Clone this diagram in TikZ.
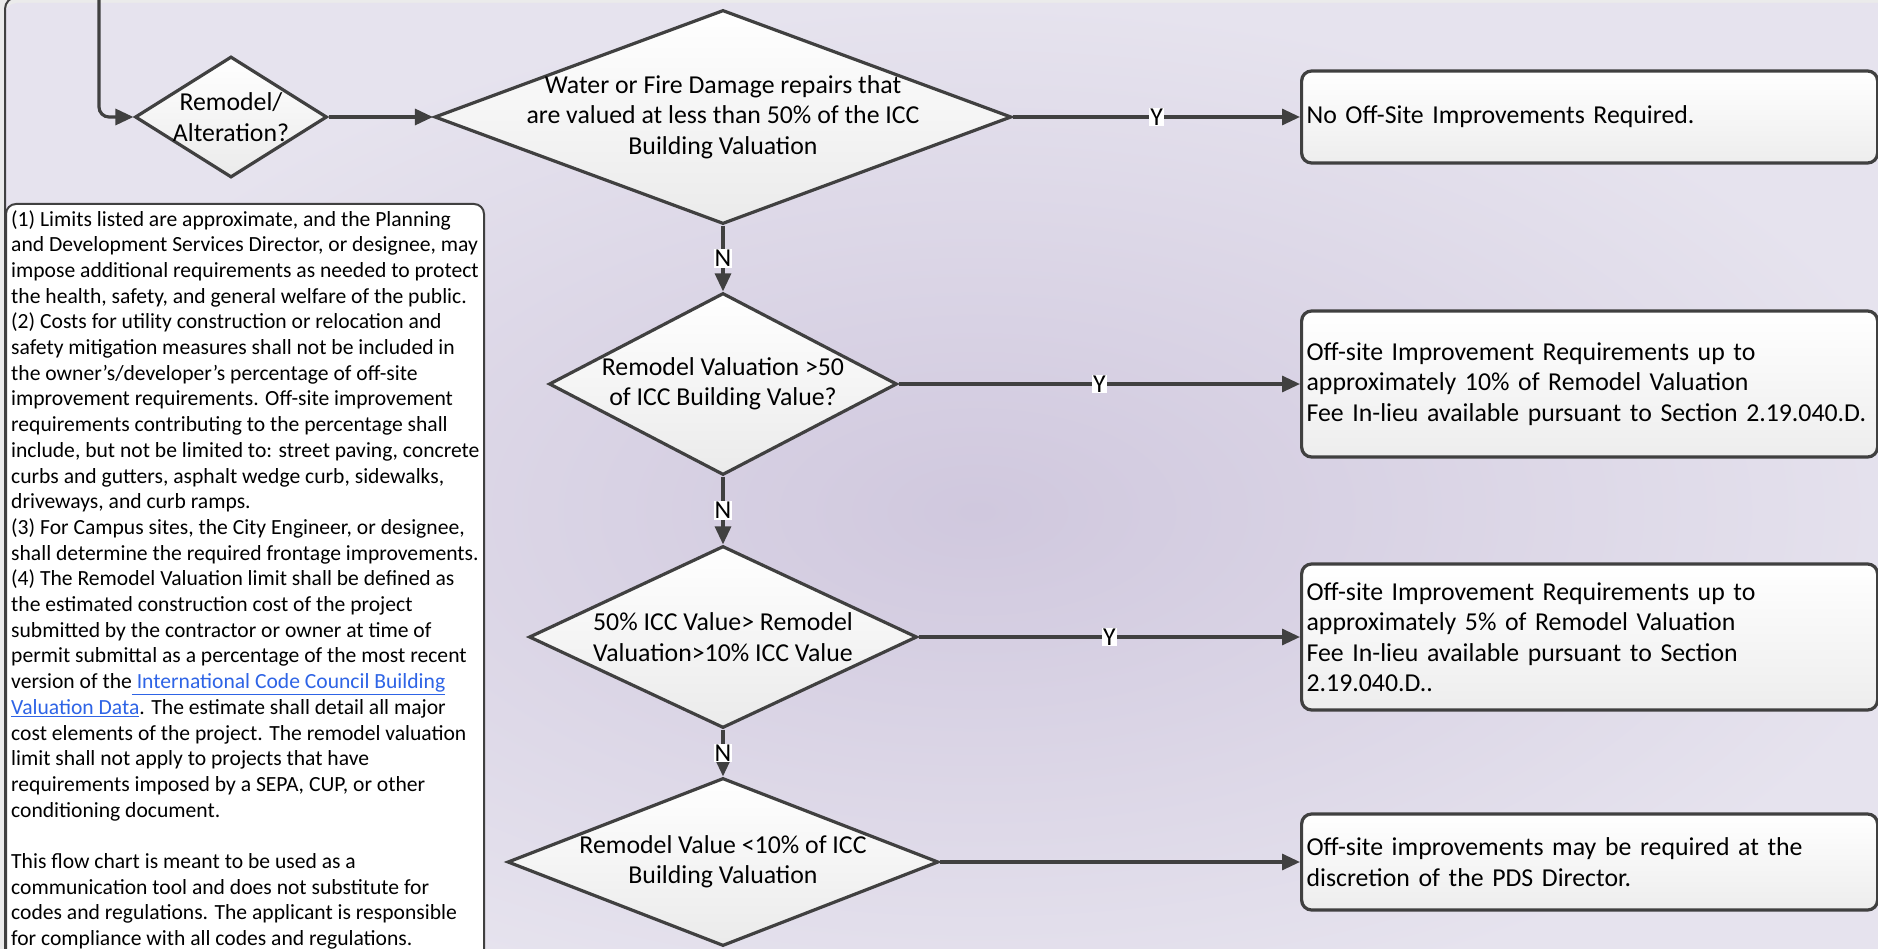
\documentclass[tikz,border=0pt]{standalone}
\usepackage{fontspec}
\setmainfont{Carlito}
\usepackage{tikz}
\usetikzlibrary{arrows.meta,shapes.geometric,calc}
\usepackage{xcolor}
\definecolor{edge}{HTML}{404040}
\definecolor{bgout}{HTML}{E6E3EE}
\definecolor{bgin}{HTML}{D0C8DE}
\definecolor{linkblue}{HTML}{2E64E6}
\newcommand{\flowfont}{\fontsize{25.8}{30.5}\selectfont}
\newcommand{\notefont}{\fontsize{21.6}{25.7}\selectfont}
\newcommand{\icclink}[1]{\textcolor{linkblue}{\underline{#1}}}

\begin{document}
\begin{tikzpicture}[x=1pt,y=-1pt,
    decision/.style={diamond,draw=edge,line width=3.2pt,top color=white,bottom color=black!8,inner sep=0pt},
    result/.style={rectangle,rounded corners=10pt,draw=edge,line width=3.2pt,top color=white,bottom color=black!7,
        minimum width=576pt,text width=566pt,inner xsep=5pt,align=left,anchor=west,font=\flowfont},
    inside/.style={align=center,font=\flowfont},
    flow/.style={draw=edge,line width=3.2pt,-{Triangle[length=18pt,width=16pt]}},
    tag/.style={fill=white,inner sep=1pt,font=\flowfont}]
    \useasboundingbox (0,0) rectangle (1878,949);
    \clip (0,0) rectangle (1878,949);
    \fill[black!8] (0,0) rectangle (1878,949);
    \path[rounded corners=12pt,inner color=bgin,outer color=bgout] (5,3) rectangle (1950,1020);
    \draw[edge,line width=2pt,rounded corners=12pt] (5,-3) rectangle (1950,1020);

    \node[decision,minimum width=192pt,minimum height=121pt,label={[inside]center:Remodel/\\Alteration?}] (d1) at (231,117) {};
    \node[decision,minimum width=577pt,minimum height=214pt,
        label={[inside]center:Water or Fire Damage repairs that\\are valued at less than 50\% of the ICC\\Building Valuation}] (d2) at (723,117) {};
    \node[decision,minimum width=348pt,minimum height=182pt,
        label={[inside]center:Remodel Valuation >50\\of ICC Building Value?}] (d3) at (723,384) {};
    \node[decision,minimum width=388pt,minimum height=182pt,
        label={[inside]center:50\% ICC Value> Remodel\\Valuation>10\% ICC Value}] (d4) at (723,637) {};
    \node[decision,minimum width=431pt,minimum height=168pt,
        label={[inside]center:Remodel Value <10\% of ICC\\Building Valuation}] (d5) at (723,862) {};

    \node[result,minimum height=92pt] (r1) at (1300,117) {No Off-Site Improvements Required.};
    \node[result,minimum height=146pt] (r2) at (1300,384) {Off-site Improvement Requirements up to\\approximately 10\% of Remodel Valuation\\Fee In-lieu available pursuant to Section 2.19.040.D.};
    \node[result,minimum height=146pt] (r3) at (1300,637) {Off-site Improvement Requirements up to\\approximately 5\% of Remodel Valuation\\Fee In-lieu available pursuant to Section\\2.19.040.D..};
    \node[result,minimum height=96pt] (r4) at (1300,862) {Off-site improvements may be required at the\\discretion of the PDS Director.};

    \node[draw=edge,line width=2pt,fill=white,rounded corners=10pt,anchor=north west,minimum width=478pt,minimum height=800pt] (notebox) at (5,203) {};
    \node[anchor=north west,inner sep=0pt,align=left,font=\notefont] (notes) at ($(notebox.north west)+(6,7)$) {%
        (1) Limits listed are approximate, and the Planning\\
        and Development Services Director, or designee, may\\
        impose additional requirements as needed to protect\\
        the health, safety, and general welfare of the public.\\
        (2) Costs for utility construction or relocation and\\
        safety mitigation measures shall not be included in\\
        the owner’s/developer’s percentage of off-site\\
        improvement requirements. Off-site improvement\\
        requirements contributing to the percentage shall\\
        include, but not be limited to: street paving, concrete\\
        curbs and gutters, asphalt wedge curb, sidewalks,\\
        driveways, and curb ramps.\\
        (3) For Campus sites, the City Engineer, or designee,\\
        shall determine the required frontage improvements.\\
        (4) The Remodel Valuation limit shall be defined as\\
        the estimated construction cost of the project\\
        submitted by the contractor or owner at time of\\
        permit submittal as a percentage of the most recent\\
        version of the\icclink{ International Code Council Building}\\
        \icclink{Valuation Data}. The estimate shall detail all major\\
        cost elements of the project. The remodel valuation\\
        limit shall not apply to projects that have\\
        requirements imposed by a SEPA, CUP, or other\\
        conditioning document.\\[25.7pt]
        This flow chart is meant to be used as a\\
        communication tool and does not substitute for\\
        codes and regulations. The applicant is responsible\\
        for compliance with all codes and regulations.};

    \coordinate (start) at (99,0);
    \draw[flow,rounded corners=10pt] (start) |- (d1.west);
    \draw[flow] (d1.east) -- (d2.west);
    \draw[flow] (d2.east) -- node[tag] {Y} (r1.west);
    \draw[flow] (d2.south) -- node[tag] {N} (d3.north);
    \draw[flow] (d3.east) -- node[tag] {Y} (r2.west);
    \draw[flow] (d3.south) -- node[tag] {N} (d4.north);
    \draw[flow] (d4.east) -- node[tag] {Y} (r3.west);
    \draw[flow] (d4.south) -- node[tag] {N} (d5.north);
    \draw[flow] (d5.east) -- (r4.west);
\end{tikzpicture}
\end{document}
